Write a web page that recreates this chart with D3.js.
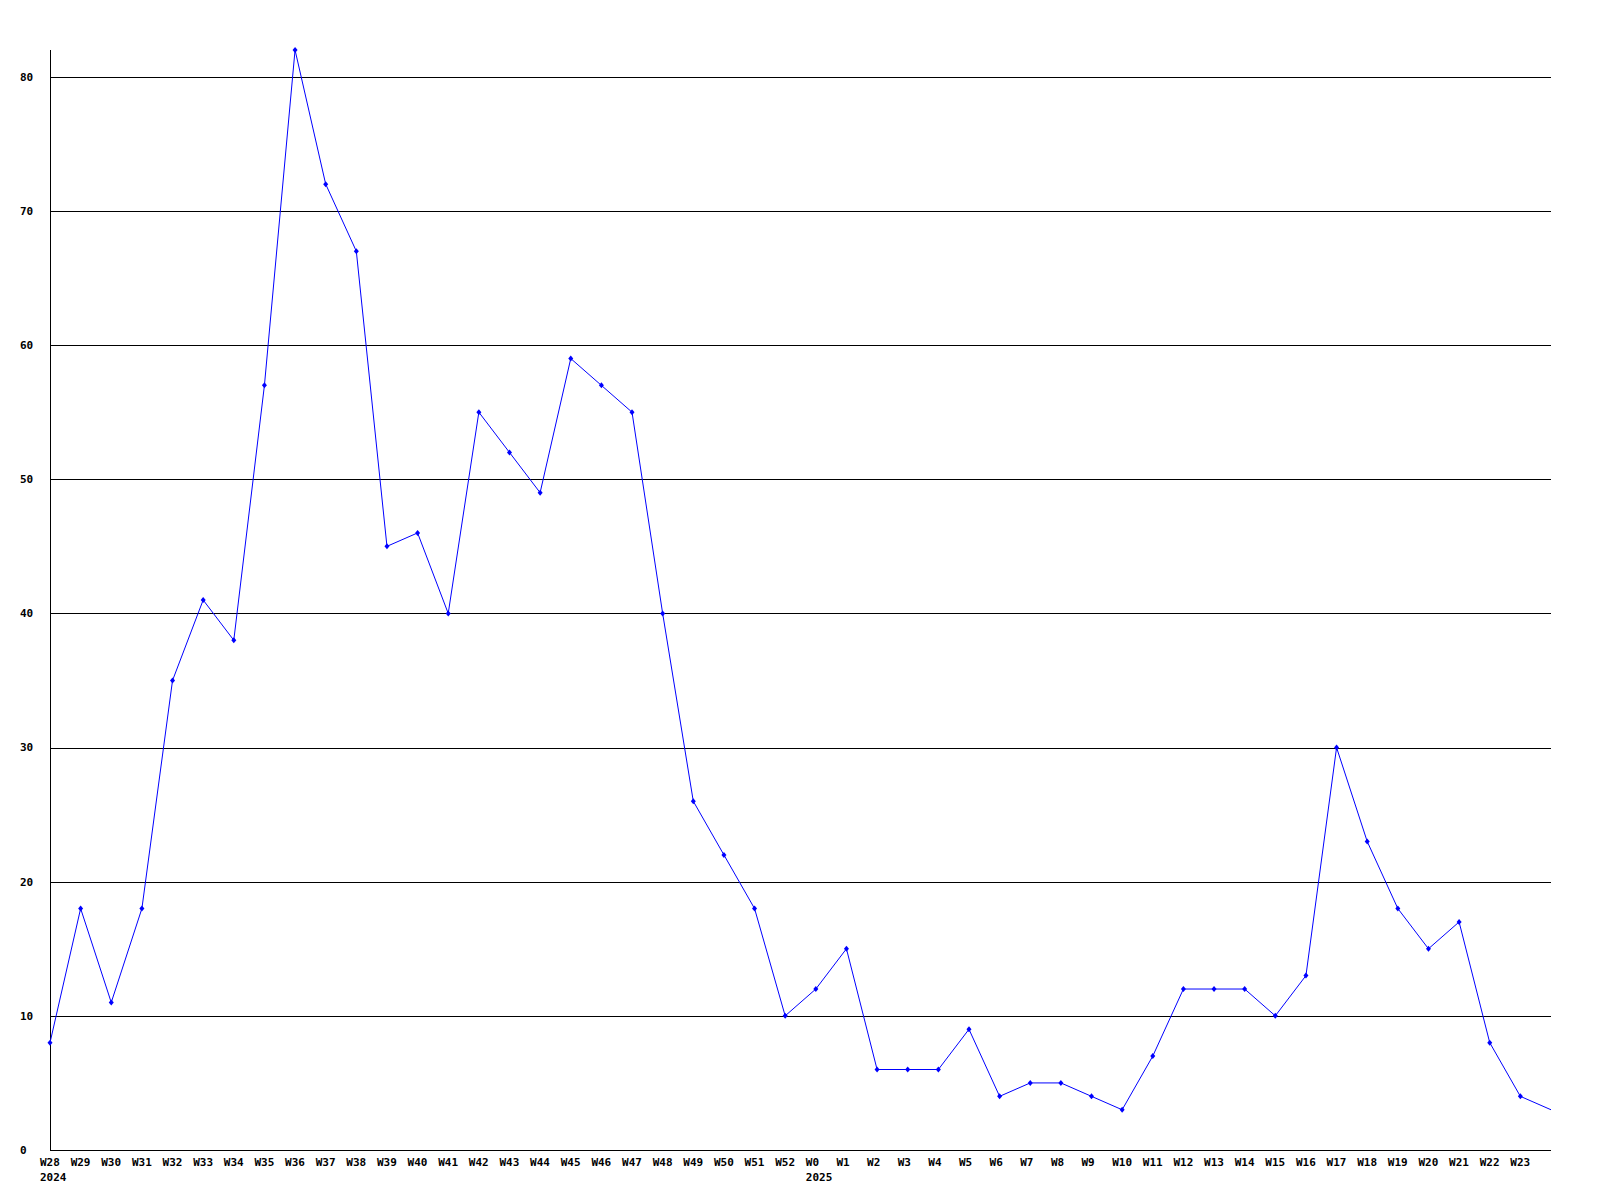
<!DOCTYPE html>
<html><head><meta charset="utf-8">
<script src="https://cdn.jsdelivr.net/npm/d3@7"></script>
<style>body{margin:0;background:#fff}svg{display:block}text{font-family:"DejaVu Sans Mono",monospace;font-weight:bold;font-size:11px;fill:#000}</style>
</head><body><svg id="c" width="1600" height="1200"></svg>
<script>
const weekLabels = ["W28","W29","W30","W31","W32","W33","W34","W35","W36","W37","W38","W39","W40","W41","W42","W43","W44","W45","W46","W47","W48","W49","W50","W51","W52","W0","W1","W2","W3","W4","W5","W6","W7","W8","W9","W10","W11","W12","W13","W14","W15","W16","W17","W18","W19","W20","W21","W22","W23"];
const values = [8,18,11,18,35,41,38,57,82,72,67,45,46,40,55,52,49,59,57,55,40,26,22,18,10,12,15,6,6,6,9,4,5,5,4,3,7,12,12,12,10,13,30,23,18,15,17,8,4,3];
const yearLabels = [{index:0,label:"2024"},{index:25,label:"2025"}];
const yTicks = [0,10,20,30,40,50,60,70,80];

const svg = d3.select("#c");
const x = d3.scaleLinear().domain([0, values.length-1]).range([50, 1551]);
const y = d3.scaleLinear().domain([0, 82]).range([1150, 50]);

// gridlines
svg.append("g").selectAll("line").data(yTicks.filter(d=>d>0)).join("line")
  .attr("x1",50).attr("x2",1551).attr("y1",d=>y(d)+0.5).attr("y2",d=>y(d)+0.5)
  .attr("stroke","#000").attr("stroke-width",1).attr("shape-rendering","crispEdges");
// axes lines
svg.append("line").attr("x1",50.5).attr("x2",50.5).attr("y1",50).attr("y2",1150.5).attr("stroke","#000").attr("shape-rendering","crispEdges");
svg.append("line").attr("x1",50).attr("x2",1551).attr("y1",1150.5).attr("y2",1150.5).attr("stroke","#000").attr("shape-rendering","crispEdges");

// y labels
svg.append("g").selectAll("text").data(yTicks).join("text")
  .attr("x",20).attr("y",d=>y(d)).attr("dy","0.35em").text(d=>d);
// x labels
svg.append("g").selectAll("text").data(weekLabels).join("text")
  .attr("x",(d,i)=>x(i)-10).attr("y",1162).attr("dy","0.35em").text(d=>d);
svg.append("g").selectAll("text").data(yearLabels).join("text")
  .attr("x",d=>x(d.index)-10).attr("y",1177).attr("dy","0.35em").text(d=>d.label);

// line
const line = d3.line().x((d,i)=>x(i)).y(d=>y(d));
svg.append("path").datum(values).attr("d",line).attr("fill","none").attr("stroke","#0000ff").attr("stroke-width",1);
// markers
svg.append("g").selectAll("path").data(values.slice(0, weekLabels.length)).join("path")
  .attr("transform",(d,i)=>`translate(${x(i)},${y(d)})`)
  .attr("d","M0,-3L2.5,0L0,3L-2.5,0Z").attr("fill","#0000ff");
</script></body></html>
